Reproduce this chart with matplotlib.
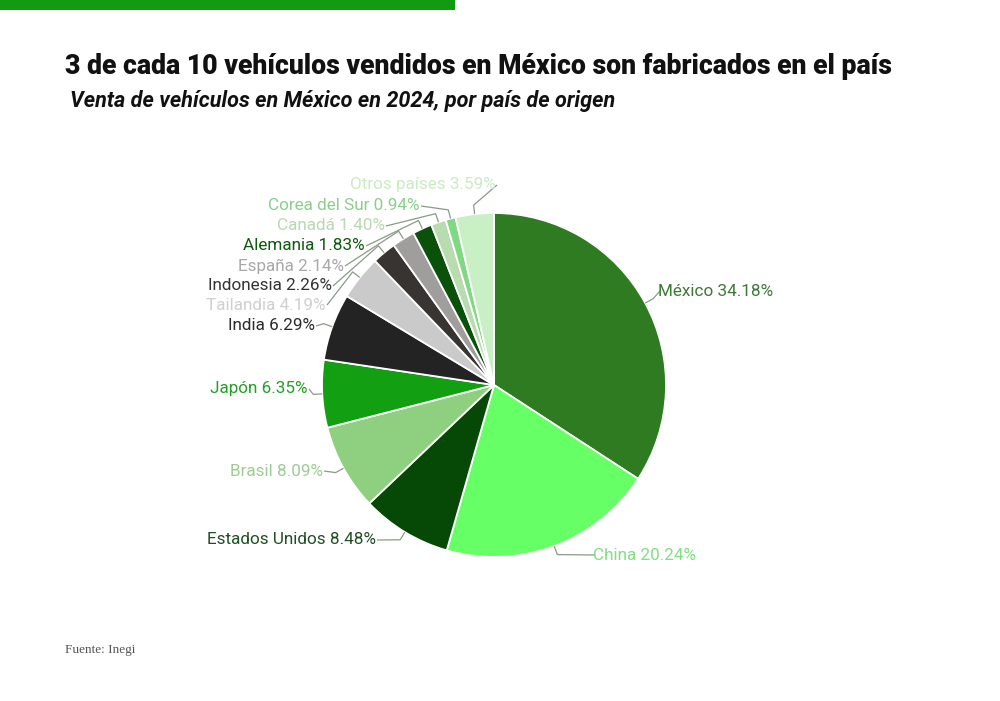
import numpy as np
import matplotlib
matplotlib.use('Agg')
import matplotlib.pyplot as plt

# Datos: venta de vehículos en México 2024 por país de origen (%)
paises = ['México', 'China', 'Estados Unidos', 'Brasil', 'Japón', 'India',
          'Tailandia', 'Indonesia', 'España', 'Alemania', 'Canadá',
          'Corea del Sur', 'Otros países']
porcentajes = [34.18, 20.24, 8.48, 8.09, 6.35, 6.29, 4.19, 2.26, 2.14,
               1.83, 1.40, 0.94, 3.59]
colores = ['#2e7b22', '#66ff66', '#064806', '#8fd080', '#12a012', '#232323',
           '#cacaca', '#383432', '#a09d9d', '#0a520a', '#b8dcb0', '#80d880',
           '#c8f0c4']
colores_txt = ['#3c7a34', '#7ee07e', '#1f4f25', '#9ccc94', '#22a022', '#2a2a2a',
               '#cfcfcf', '#333333', '#a8a8a8', '#0d5a0d', '#b8d8b0', '#88d088',
               '#c8ecc0']

# posición de cada etiqueta (px, y desde arriba) y alineación
pos_etiq = [(658, 291, 'left'), (593, 555, 'left'), (376, 540, 'right'),
            (323, 471, 'right'), (308, 389, 'right'), (315, 326, 'right'),
            (326, 305, 'right'), (332, 286, 'right'), (344, 266, 'right'),
            (365, 246, 'right'), (385, 226, 'right'), (420, 206, 'right'),
            (496, 185, 'right')]

W, H = 1000, 701
fig = plt.figure(figsize=(10, 7.01), dpi=100)
ax = fig.add_axes([0, 0, 1, 1])
ax.set_xlim(0, W)
ax.set_ylim(0, H)
ax.axis('off')

# barra verde superior
ax.add_patch(plt.Rectangle((0, H - 10), 455, 10, color='#129a12', lw=0))

cx, cy, r = 494, H - 385, 172
ax.pie(porcentajes, colors=colores, startangle=90, counterclock=False,
       center=(cx, cy), radius=r, normalize=True,
       wedgeprops=dict(edgecolor='white', linewidth=1.3))
ax.set_xlim(0, W)
ax.set_ylim(0, H)
ax.set_aspect('equal')

total = sum(porcentajes)
acum = 0
for i, (p, pct) in enumerate(zip(paises, porcentajes)):
    mid = (acum + pct / 2) / total * 360
    acum += pct
    th = np.deg2rad(90 - mid)
    x0, y0 = cx + r * np.cos(th), cy + r * np.sin(th)
    x1, y1 = cx + (r + 9) * np.cos(th), cy + (r + 9) * np.sin(th)
    tx, ty, ha = pos_etiq[i]
    ty = H - ty
    xe = tx + 2 if ha == 'left' else tx + 1
    ax.plot([x0, x1, xe], [y0, y1, ty], color='#8a9a88', lw=0.9,
            solid_capstyle='butt')
    ax.text(tx, ty, f'{p} {pct:.2f}%', ha=ha, va='center', fontsize=12.3,
            family='Roboto', color=colores_txt[i])

fig.text(0.065, 1 - 66 / H, '3 de cada 10 vehículos vendidos en México son fabricados en el país',
         ha='left', va='center', fontsize=19.2, fontweight='black',
         family='Roboto', color='#111111')
fig.text(0.070, 1 - 101 / H, 'Venta de vehículos en México en 2024, por país de origen',
         ha='left', va='center', fontsize=15.6, fontweight='bold', style='italic',
         family='Roboto', color='#111111')
fig.text(0.065, 1 - 650 / H, 'Fuente: Inegi', ha='left', va='center',
         fontsize=9.5, family='Liberation Serif', color='#555555')

fig.savefig('out.png', dpi=100)
